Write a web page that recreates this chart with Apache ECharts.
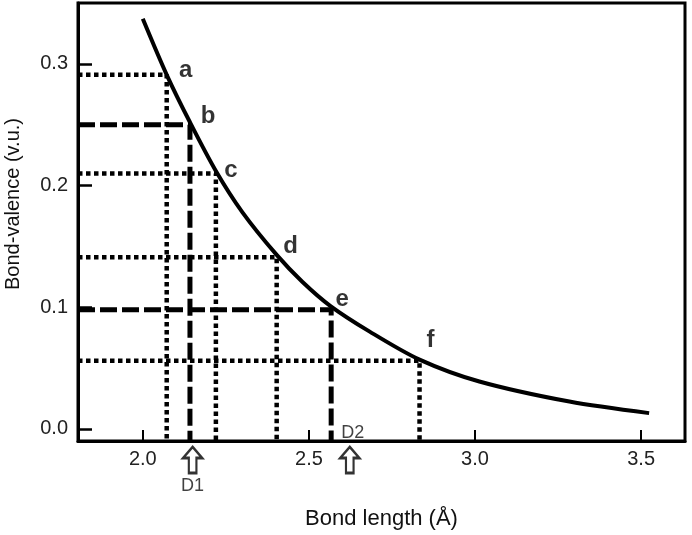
<!DOCTYPE html>
<html>
<head>
<meta charset="utf-8">
<script src="https://cdn.jsdelivr.net/npm/echarts@6/dist/echarts.min.js"></script>
<style>
html,body{margin:0;padding:0;background:#fff;}
#chart{width:692px;height:535px;}
</style>
</head>
<body>
<div id="chart"></div>
<script>
// ---- data ----
const curveR = [2.0, 2.072, 2.142, 2.220, 2.30, 2.403, 2.48, 2.565, 2.683, 2.833, 3.013, 3.284, 3.524];
const curveS = [0.337, 0.291, 0.252, 0.212, 0.178, 0.143, 0.121, 0.101, 0.080, 0.057, 0.039, 0.0225, 0.013];

const ptLabels = ['a', 'b', 'c', 'd', 'e', 'f'];
const ptR = [2.072, 2.142, 2.220, 2.403, 2.567, 2.833];
const ptS = [0.291, 0.250, 0.210, 0.141, 0.098, 0.056];
const ptStyle = ['dotted', 'dashed', 'dotted', 'dotted', 'dashed', 'dotted'];

const arrowLabels = ['D1', 'D2'];
const arrowR = [2.150, 2.623];

const xTicks = [2.0, 2.5, 3.0, 3.5];
const yTicks = [0.0, 0.1, 0.2, 0.3];

const xTitle = 'Bond length (Å)';
const yTitle = 'Bond-valence (v.u.)';

// ---- styles / layout ----
const X_MIN = 1.805, X_MAX = 3.632;
const Y_MIN = -0.0099, Y_MAX = 0.350;
const FONT = 'Liberation Sans, Arial, sans-serif';
const labelOffsets = [[19, -4], [18, -8], [15, -3], [14, -11], [11, -10], [11, -20]];
const ARROW_Y = -0.0255;
const D2_LABEL_Y = -0.0033;

const chart = echarts.init(document.getElementById('chart'), null, {renderer: 'canvas'});

const series = [];

// guide lines
ptR.forEach((r, i) => {
  const dotted = ptStyle[i] === 'dotted';
  series.push({
    type: 'line',
    data: [[X_MIN, ptS[i]], [r, ptS[i]], [r, Y_MIN]],
    symbol: 'none',
    silent: true,
    z: 2,
    lineStyle: {
      color: '#000',
      width: dotted ? 4.5 : 5,
      type: dotted ? [4.5, 3.5] : [17, 5],
      cap: 'butt'
    }
  });
});

// curve
series.push({
  type: 'line',
  data: curveR.map((r, i) => [r, curveS[i]]),
  smooth: 0.3,
  symbol: 'none',
  z: 3,
  lineStyle: {color: '#000', width: 4}
});

// point letters
series.push({
  type: 'scatter',
  symbolSize: 0,
  z: 4,
  data: ptR.map((r, i) => ({
    value: [r, ptS[i]],
    name: ptLabels[i],
    label: {offset: labelOffsets[i]}
  })),
  label: {
    show: true,
    position: 'inside',
    formatter: p => p.name,
    color: '#000',
    fontFamily: FONT,
    fontWeight: 'bold',
    fontSize: 24
  }
});

// arrows
series.push({
  type: 'scatter',
  clip: false,
  z: 4,
  symbol: 'path://M10,0 L20,11 L14,11 L14,26 L6,26 L6,11 L0,11 Z',
  symbolSize: [19, 26],
  itemStyle: {color: '#fff', borderColor: '#000', borderWidth: 2.5},
  data: arrowR.map((r, i) => ({
    value: [r, ARROW_Y],
    name: arrowLabels[i],
    label: {show: i === 0}
  })),
  label: {
    position: 'bottom',
    distance: 3,
    formatter: p => p.name,
    color: '#111',
    fontFamily: FONT,
    fontSize: 18
  }
});

// D2 label (inside the plot)
series.push({
  type: 'scatter',
  clip: false,
  symbolSize: 0,
  z: 4,
  data: [{value: [arrowR[1], D2_LABEL_Y], name: arrowLabels[1]}],
  label: {
    show: true,
    position: 'inside',
    offset: [3, 0],
    formatter: p => p.name,
    color: '#111',
    fontFamily: FONT,
    fontSize: 18
  }
});

chart.setOption({
  animation: false,
  backgroundColor: '#fff',
  grid: {
    left: 78, right: 7, top: 3, bottom: 94,
    show: true, borderColor: '#000', borderWidth: 3,
    containLabel: false,
    outerBoundsMode: 'none'
  },
  xAxis: {
    type: 'value',
    min: X_MIN, max: X_MAX,
    splitLine: {show: false},
    axisLine: {show: true, onZero: false, lineStyle: {color: '#000', width: 3}},
    axisTick: {show: true, inside: true, length: 11, customValues: xTicks, lineStyle: {color: '#000', width: 2}},
    axisLabel: {
      customValues: xTicks,
      formatter: v => v.toFixed(1),
      margin: 8,
      color: '#222',
      fontFamily: FONT,
      fontSize: 20
    },
    name: xTitle,
    nameLocation: 'middle',
    nameGap: 67,
    nameTextStyle: {color: '#111', fontFamily: FONT, fontSize: 22}
  },
  yAxis: {
    type: 'value',
    min: Y_MIN, max: Y_MAX,
    splitLine: {show: false},
    axisLine: {show: true, onZero: false, lineStyle: {color: '#000', width: 3}},
    axisTick: {show: true, inside: true, length: 14, customValues: yTicks, lineStyle: {color: '#000', width: 2.5}},
    axisLabel: {
      customValues: yTicks,
      formatter: v => v.toFixed(1),
      margin: 10,
      color: '#222',
      fontFamily: FONT,
      fontSize: 20
    },
    name: yTitle,
    nameLocation: 'middle',
    nameGap: 55,
    nameTextStyle: {color: '#111', fontFamily: FONT, fontSize: 20, padding: [0, 0, 0, 36]}
  },
  series: series
});
</script>
</body>
</html>
